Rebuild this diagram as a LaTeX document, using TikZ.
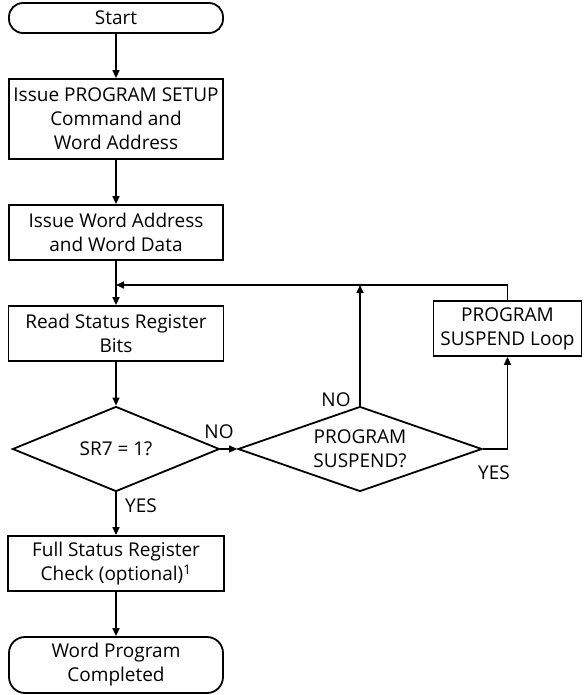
\documentclass[tikz,border=0pt]{standalone}
\usepackage{fontspec}
\setmainfont{Open Sans}
\usetikzlibrary{shapes.geometric,arrows.meta}
\begin{document}
\begin{tikzpicture}[x=1pt,y=-1pt,
  every node/.style={font=\fontsize{19}{24}\selectfont, align=center, inner sep=0pt},
  box/.style={draw, line width=1.8pt, rectangle},
  term/.style={draw, line width=1.8pt, rectangle, rounded corners=14pt},
  dec/.style={draw, line width=1.8pt, diamond, aspect=3},
  lbl/.style={font=\fontsize{19}{22}\selectfont},
  conn/.style={line width=1.6pt, -{Triangle[length=8pt,width=7pt]}},
  plain/.style={line width=1.6pt}]
\useasboundingbox (0,0) rectangle (583,695);
\node[term, minimum width=214pt, minimum height=30pt] (start) at (116,18) {Start};
\node[box, minimum width=214pt, minimum height=80pt] (b1) at (116,119) {Issue PROGRAM SETUP\\Command and\\Word Address};
\node[box, minimum width=214pt, minimum height=55pt] (b2) at (116,232.5) {Issue Word Address\\and Word Data};
\node[box, minimum width=215pt, minimum height=55pt] (read) at (116,333.5) {Read Status Register\\Bits};
\node[dec, minimum width=207pt, minimum height=85pt] (sr7) at (116,449) {SR7 = 1?};
\node[dec, minimum width=244pt, minimum height=85pt] (ps) at (360,449) {PROGRAM\\SUSPEND?};
\node[box, minimum width=148pt, minimum height=55pt] (psl) at (507.5,328.5) {PROGRAM\\SUSPEND Loop};
\node[box, minimum width=216pt, minimum height=55pt] (full) at (116,563.5) {Full Status Register\\Check (optional)\textsuperscript{1}};
\node[term, rounded corners=16pt, minimum width=214pt, minimum height=56pt] (end) at (116,665) {Word Program\\Completed};
\coordinate (m) at (116,285);
\coordinate (pstop) at (ps.north |- m);
\coordinate (psltop) at (psl.north |- m);
\node[lbl] (no1) at (219,432) {NO};
\node[lbl] (no2) at (336,400) {NO};
\node[lbl] (yes1) at (494,473) {YES};
\node[lbl] (yes2) at (141,506) {YES};
\draw[conn] (start) -- (b1);
\draw[conn] (b1) -- (b2);
\draw[conn] (b2) -- (read);
\draw[conn] (read) -- (sr7);
\draw[conn] (sr7) -- (full);
\draw[conn] (full) -- (end);
\draw[conn] (sr7.east) -- (ps.west);
\draw[conn] (ps.north) -- (pstop);
\draw[conn] (ps.east) -| (psl.south);
\draw[plain] (psl.north) -- (psltop);
\draw[conn] (psltop) -- (m);
\end{tikzpicture}
\end{document}
